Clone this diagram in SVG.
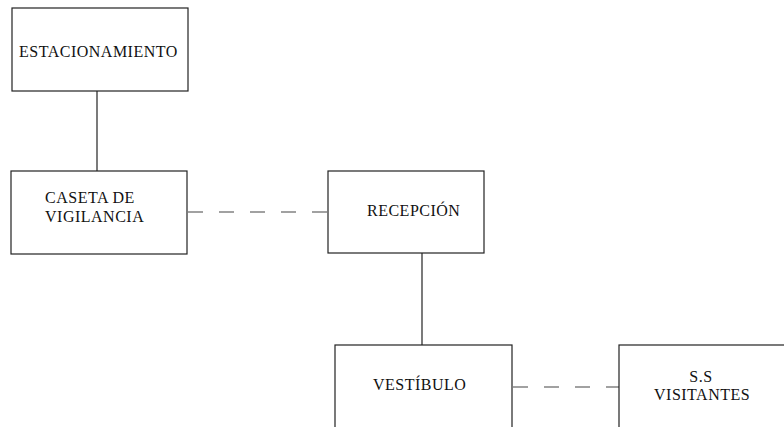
<svg xmlns="http://www.w3.org/2000/svg" width="784" height="427" viewBox="0 0 784 427">
<style>
.box{fill:#fff;stroke:#222;stroke-width:1.2}
.t{font-family:'Liberation Serif','Times New Roman','DejaVu Serif',serif;font-size:16px;fill:#111;letter-spacing:0.5px}
.c{stroke:#222;stroke-width:1.2;fill:none}
.d{stroke:#444;stroke-width:1.2;fill:none;stroke-dasharray:15 16}
</style>
<rect width="784" height="427" fill="#fff"/>
<g id="connectors">
<line class="c" x1="97" y1="91" x2="97" y2="171"/>
<line class="d" x1="188" y1="212" x2="328" y2="212"/>
<line class="c" x1="422" y1="253" x2="422" y2="345"/>
<line class="d" x1="513" y1="387" x2="619" y2="387"/>
</g>
<g id="estacionamiento">
<rect class="box" x="12" y="8" width="176" height="83"/>
<text class="t" x="19" y="57">ESTACIONAMIENTO</text>
</g>
<g id="caseta">
<rect class="box" x="11" y="171" width="176" height="83"/>
<text class="t" x="45" y="203">CASETA DE</text>
<text class="t" x="45" y="222">VIGILANCIA</text>
</g>
<g id="recepcion">
<rect class="box" x="328" y="171" width="156" height="82"/>
<text class="t" x="367" y="216">RECEPCIÓN</text>
</g>
<g id="vestibulo">
<rect class="box" x="335" y="345" width="177" height="100"/>
<text class="t" x="373" y="390">VESTÍBULO</text>
</g>
<g id="visitantes">
<rect class="box" x="619" y="345" width="180" height="100"/>
<text class="t" x="701" y="382" text-anchor="middle">S.S</text>
<text class="t" x="654" y="400">VISITANTES</text>
</g>
</svg>
